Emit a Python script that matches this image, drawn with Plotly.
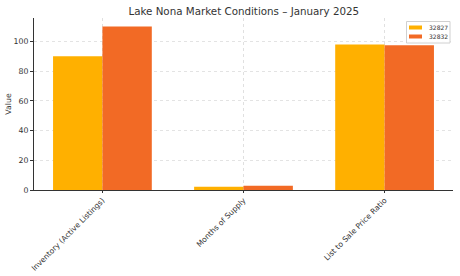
import plotly.graph_objects as go

categories = ["Inventory (Active Listings)", "Months of Supply", "List to Sale Price Ratio"]
series_names = ["32827", "32832"]
values_32827 = [90, 2.2, 98.0]
values_32832 = [110, 2.9, 97.4]
colors = ["#FFB000", "#F26A25"]

W, H = 460, 276
L, R, T, B = 34, 7, 18, 86
PW, PH = W - L - R, H - T - B

def px_x(px):
    return (px - L) / PW

def px_y(py):
    return (H - B - py) / PH

fig = go.Figure()
for name, vals, col in zip(series_names, [values_32827, values_32832], colors):
    fig.add_trace(go.Bar(x=categories, y=vals, name=name, showlegend=False,
                         marker=dict(color=col, line=dict(width=0))))

font = "DejaVu Sans, sans-serif"
fig.update_layout(
    width=W, height=H,
    margin=dict(l=L, r=R, t=T, b=B, autoexpand=False),
    barmode="group", bargap=0.3, bargroupgap=0,
    plot_bgcolor="white", paper_bgcolor="white",
    font=dict(family=font, color="#333333", size=8),
    title=dict(text="Lake Nona Market Conditions – January 2025", x=0.53, xanchor="center",
               y=1 - 11/276, yanchor="middle", yref="container",
               font=dict(size=10.3, color="#333333", family=font)),
    showlegend=False,
)
fig.update_xaxes(range=[-0.485, 2.485], tickangle=-45, showline=True, linecolor="#333333",
                 showgrid=True, gridcolor="#e0e0e0", griddash="dot", ticks="outside",
                 ticklen=2, tickcolor="#333333", tickfont=dict(size=7.6), automargin=False)
fig.update_yaxes(range=[0, 115.8], showline=True, linecolor="#333333", showgrid=True,
                 gridcolor="#e3e3e3", griddash="dot", dtick=20, ticks="outside", ticklen=3,
                 tickcolor="#333333", zeroline=False, tickfont=dict(size=7.8), automargin=False,
                 title=dict(text="Value", font=dict(size=7.8), standoff=0))

# legend box (drawn manually to match compact style)
fig.add_shape(type="rect", xref="paper", yref="paper",
              x0=px_x(406.5), x1=px_x(450), y0=px_y(43), y1=px_y(21.5),
              line=dict(color="#d0d0d0", width=1), fillcolor="rgba(255,255,255,0.9)", layer="above")
for i, (name, col) in enumerate(zip(series_names, colors)):
    cy = 27.5 + 9 * i
    fig.add_shape(type="rect", xref="paper", yref="paper",
                  x0=px_x(409), x1=px_x(422), y0=px_y(cy + 2), y1=px_y(cy - 2),
                  line=dict(width=0), fillcolor=col, layer="above")
    fig.add_annotation(xref="paper", yref="paper", x=px_x(426.5), y=px_y(cy),
                       text=name, showarrow=False, xanchor="left", yanchor="middle",
                       font=dict(size=6, color="#333333"))

fig.write_html("out.html")
